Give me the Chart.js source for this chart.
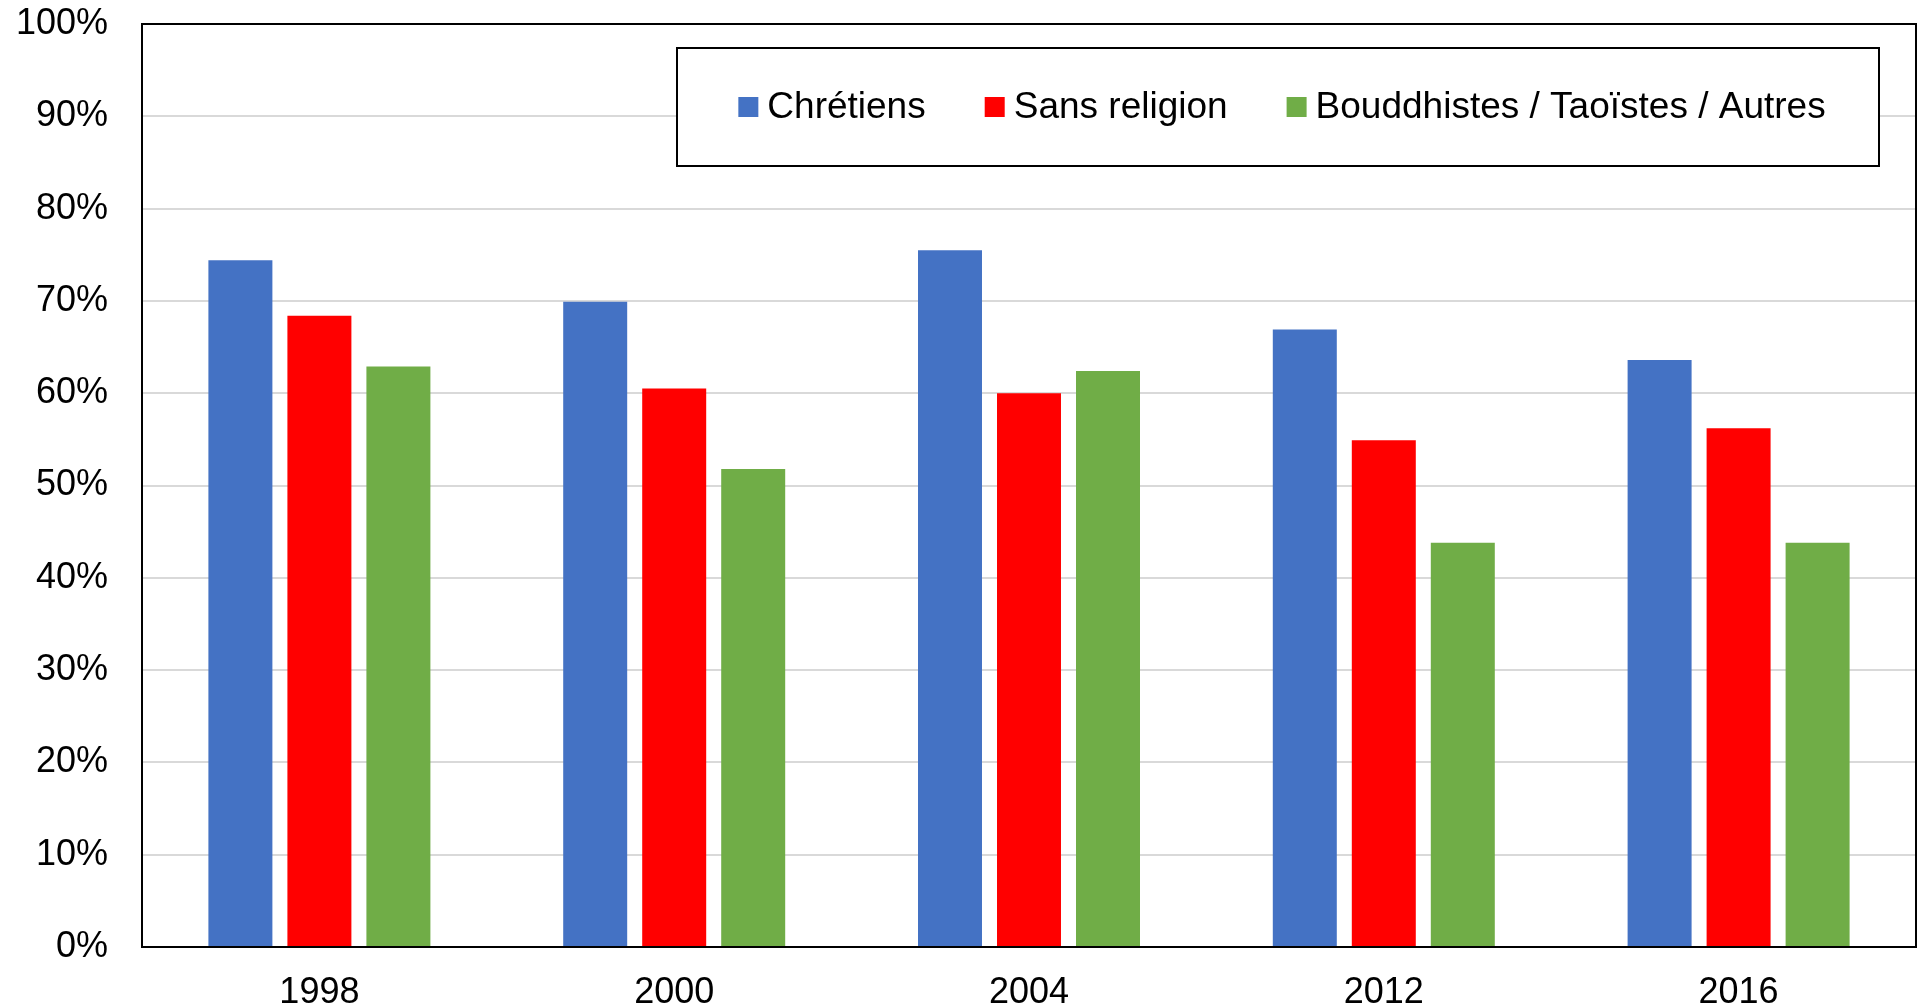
<!DOCTYPE html>
<html>
<head>
<meta charset="utf-8">
<script src="https://cdn.jsdelivr.net/npm/chart.js@4.4.1/dist/chart.umd.min.js"></script>
<style>
  html, body { margin: 0; padding: 0; background: #fff; }
  #wrap { width: 1919px; height: 1008px; }
</style>
</head>
<body>
<div id="wrap"><canvas id="chart" width="1919" height="1008"></canvas></div>
<script>
const years = ["1998", "2000", "2004", "2012", "2016"];
const seriesNames = ["Chrétiens", "Sans religion", "Bouddhistes / Taoïstes / Autres"];
const chretiens = [74.4, 69.9, 75.5, 66.9, 63.6];
const sansReligion = [68.4, 60.5, 60.0, 54.9, 56.2];
const bouddhistes = [62.9, 51.8, 62.4, 43.8, 43.8];
const colors = ["#4472C4", "#FF0000", "#70AD47"];

const FONT = "'Liberation Sans', Arial, sans-serif";

// box round the plot + legend inside the plot
const framePlugin = {
  id: "frame",
  afterDraw(chart) {
    const ctx = chart.ctx;
    const a = chart.chartArea;
    ctx.save();
    ctx.strokeStyle = "#000";
    ctx.lineWidth = 2;
    ctx.strokeRect(a.left, a.top, a.right - a.left, a.bottom - a.top);

    // legend
    const box = { x: 677, y: 48, w: 1202, h: 118 };
    ctx.fillStyle = "#fff";
    ctx.fillRect(box.x, box.y, box.w, box.h);
    ctx.strokeRect(box.x, box.y, box.w, box.h);
    ctx.font = "37px " + FONT;
    ctx.textBaseline = "middle";
    const sq = 20, gapIn = 9, gapOut = 59;
    const items = chart.data.datasets.map(d => ({ label: d.label, color: d.backgroundColor }));
    let total = 0;
    items.forEach((it, i) => {
      it.w = ctx.measureText(it.label).width;
      total += sq + gapIn + it.w + (i < items.length - 1 ? gapOut : 0);
    });
    let x = box.x + (box.w - total) / 2 + 4;
    const cy = box.y + 59;
    items.forEach(it => {
      ctx.fillStyle = it.color;
      ctx.fillRect(x, cy - sq / 2, sq, sq);
      ctx.fillStyle = "#000";
      ctx.fillText(it.label, x + sq + gapIn, cy + 1);
      x += sq + gapIn + it.w + gapOut;
    });
    ctx.restore();
  }
};

new Chart(document.getElementById("chart"), {
  type: "bar",
  data: {
    labels: years,
    datasets: [
      { label: seriesNames[0], data: chretiens, backgroundColor: colors[0] },
      { label: seriesNames[1], data: sansReligion, backgroundColor: colors[1] },
      { label: seriesNames[2], data: bouddhistes, backgroundColor: colors[2] }
    ]
  },
  options: {
    responsive: false,
    animation: false,
    datasets: {
      bar: { categoryPercentage: 0.668, barPercentage: 0.81 }
    },
    layout: { padding: { left: 0, right: 3, top: 24, bottom: 0 } },
    plugins: {
      legend: { display: false },
      tooltip: { enabled: false }
    },
    scales: {
      x: {
        grid: { display: false, drawTicks: false },
        border: { display: true, color: "#000", width: 2 },
        ticks: { color: "#000", font: { family: FONT, size: 36 }, padding: 24, maxRotation: 0 },
        afterFit(scale) { scale.height = 61; }
      },
      y: {
        min: 0,
        max: 100,
        // invisible ticks give the gap between labels and axis
        grid: { color: "#d9d9d9", lineWidth: 2, drawTicks: true, tickLength: 34, tickColor: "rgba(0,0,0,0)" },
        border: { display: true, color: "#000", width: 2 },
        ticks: {
          stepSize: 10,
          color: "#000",
          font: { family: FONT, size: 36 },
          padding: 0,
          callback: v => v + "%"
        },
        afterFit(scale) { scale.width = 142; }
      }
    }
  },
  plugins: [framePlugin]
});
</script>
</body>
</html>
